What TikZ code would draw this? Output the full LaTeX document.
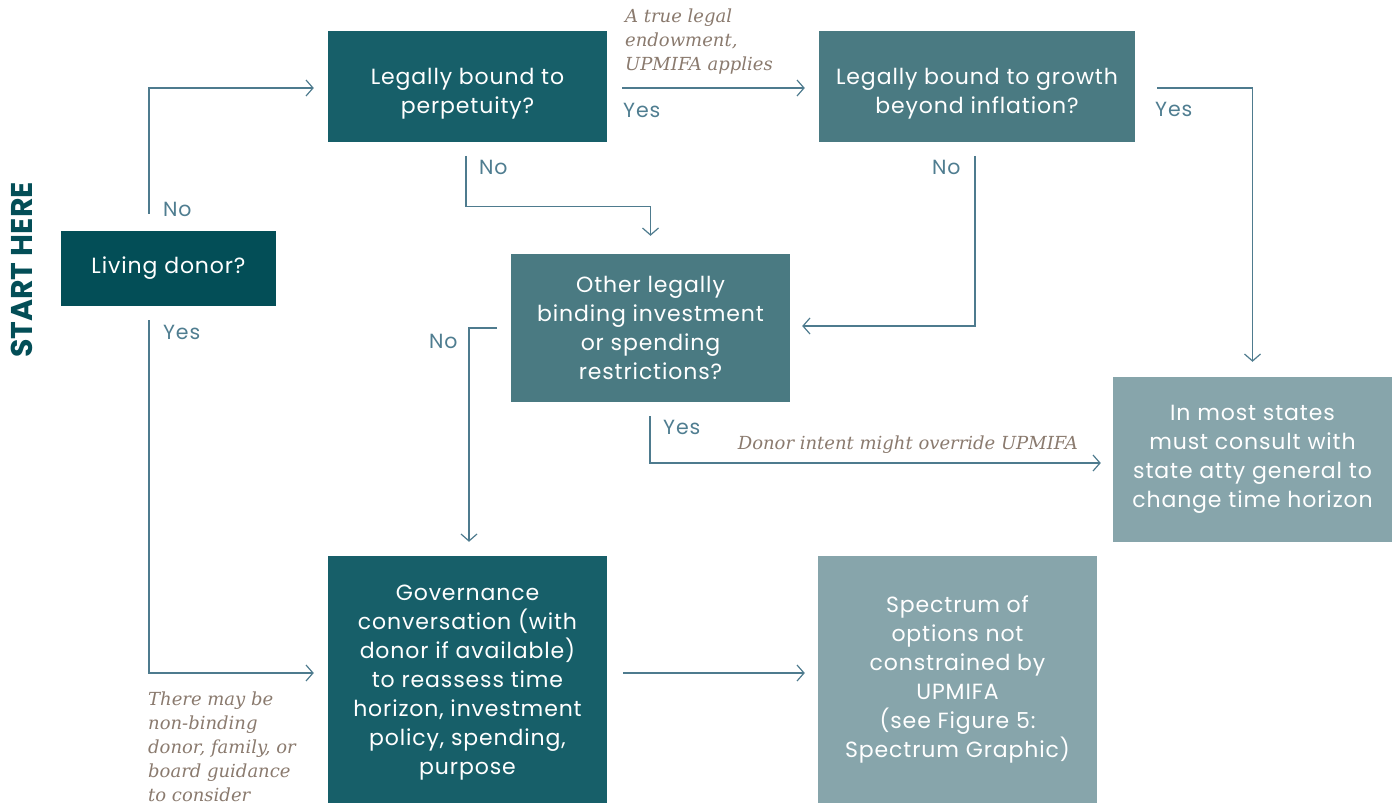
\documentclass[tikz,border=0pt]{standalone}
\usepackage{fontspec}
\setmainfont{Poppins}[LetterSpace=4]
\newfontfamily\titlefont{Poppins}
\newfontfamily\notefont{DejaVu Serif}
\usetikzlibrary{arrows.meta}
\definecolor{cdark}{HTML}{034E57}
\definecolor{cteal}{HTML}{175F69}
\definecolor{cmid}{HTML}{4A7A82}
\definecolor{clight}{HTML}{87A5AB}
\definecolor{cline}{HTML}{4E7B8E}
\definecolor{clab}{HTML}{4F7D90}
\definecolor{cnote}{HTML}{8A7A6E}
\tikzset{
  box/.style={rectangle, inner sep=0pt, align=center, text=white,
    font=\fontsize{22}{29}\selectfont},
  boxtext/.style={inner sep=0pt, align=center, text=white,
    font=\fontsize{22}{29}\selectfont},
  conn/.style={draw=cline, line width=1.2pt,
    -{Straight Barb[length=7pt,width=16pt,line width=1.2pt]}},
  lab/.style={anchor=base west, inner sep=0pt, text=clab, font=\fontsize{20.5}{24}\selectfont},
  note/.style={inner sep=0pt, text=cnote, font=\notefont\itshape\fontsize{18}{24}\selectfont},
}
\begin{document}
\begin{tikzpicture}[x=1pt,y=-1pt]
\useasboundingbox (0,0) rectangle (1400,805);

% title
\node[rotate=90, inner sep=0pt, text=cdark, font=\titlefont\bfseries\fontsize{30}{30}\selectfont] (start) at (21.5,270) {START HERE};

% boxes
\node[box, fill=cdark, minimum width=215pt, minimum height=75pt] (living) at (168.5,268.5) {Living donor?};
\node[box, fill=cteal, minimum width=279pt, minimum height=111pt] (perp) at (467.5,86.5) {};
\node[boxtext] (perpt) at ([yshift=-7pt]perp.center) {Legally bound to\\perpetuity?};
\node[box, fill=cmid, minimum width=316pt, minimum height=111pt] (grow) at (977,86.5) {};
\node[boxtext] (growt) at ([yshift=-7pt]grow.center) {Legally bound to growth\\beyond inflation?};
\node[box, fill=cmid, minimum width=279pt, minimum height=148pt] (other) at (650.5,328) {Other legally\\binding investment\\or spending\\restrictions?};
\node[box, fill=clight, minimum width=279pt, minimum height=165pt] (states) at (1252.5,459.5) {In most states\\must consult with\\state atty general to\\change time horizon};
\node[box, fill=cteal, minimum width=279pt, minimum height=247pt] (gov) at (467.5,679.5) {};
\node[boxtext] (govt) at ([yshift=-3pt]gov.center) {Governance\\conversation (with\\donor if available)\\to reassess time\\horizon, investment\\policy, spending,\\purpose};
\node[box, fill=clight, minimum width=279pt, minimum height=247pt] (spec) at (957.5,679.5) {Spectrum of\\options not\\constrained by\\UPMIFA\\(see Figure 5:\\Spectrum Graphic)};

% connector start points
\coordinate (ln) at (149,214);
\coordinate (ly) at (149,320);
\coordinate (py) at (622,88);
\coordinate (pn) at (466,156);
\coordinate (gn) at (975,156);
\coordinate (gy) at (1157,88);
\coordinate (on) at (497,328);
\coordinate (oy) at (650,416);

% connectors
\draw[conn, shorten >=14pt] (ln) |- ([yshift=-1.5pt]perp.west);
\draw[conn, shorten >=14pt] (ly) |- ([yshift=6.5pt]gov.west);
\draw[conn, shorten >=14pt] (py) -- (py -| grow.west);
\draw[conn, shorten >=18pt] (pn) |- ([yshift=47pt]other.north) -- (other.north);
\draw[conn, shorten >=12pt] (gn) |- ([yshift=2pt]other.east);
\draw[conn, shorten >=15pt] (gy) -| (states.north);
\draw[conn, shorten >=14pt] (on) -| ([xshift=1.5pt]gov.north);
\draw[conn, shorten >=12pt] (oy) |- ([yshift=-3.5pt]states.west);
\draw[conn, shorten <=16pt, shorten >=13pt] ([yshift=6.5pt]gov.east) -- ([yshift=6.5pt]spec.west);

% yes/no labels
\node[lab] (l1) at (163,217) {No};
\node[lab] (l2) at (163,339) {Yes};
\node[lab] (l3) at (623,118) {Yes};
\node[lab] (l4) at (479,175) {No};
\node[lab] (l5) at (932,175) {No};
\node[lab] (l6) at (1155,117) {Yes};
\node[lab] (l7) at (429,348) {No};
\node[lab] (l8) at (663,434) {Yes};

% notes
\node[note, anchor=north west, align=left] (n1) at (625,9) {A true legal\\endowment,\\UPMIFA applies};
\node[note, anchor=base east] (n2) at (1078,449) {Donor intent might override UPMIFA};
\node[note, anchor=north west, align=left] (n3) at (148,692) {There may be\\non-binding\\donor, family, or\\board guidance\\to consider};
\end{tikzpicture}
\end{document}
